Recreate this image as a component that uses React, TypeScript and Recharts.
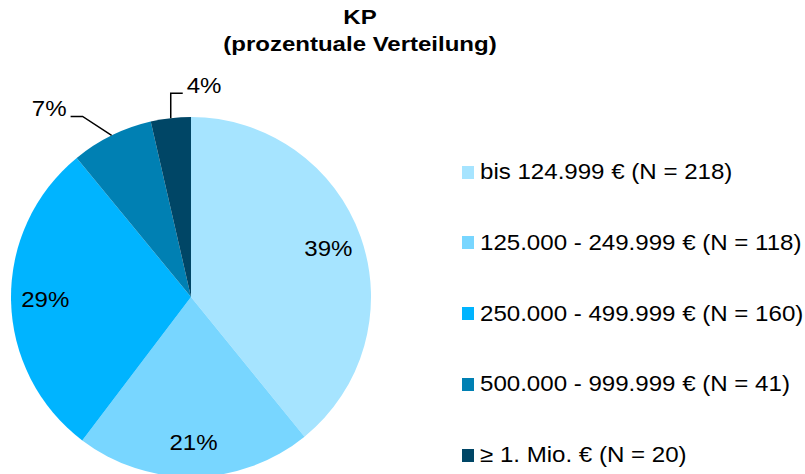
import { Cell, Legend, Pie, PieChart } from 'recharts';

const categories = [
  'bis 124.999 € (N = 218)',
  '125.000 - 249.999 € (N = 118)',
  '250.000 - 499.999 € (N = 160)',
  '500.000 - 999.999 € (N = 41)',
  '≥ 1. Mio. € (N = 20)',
];
const counts = [218, 118, 160, 41, 20];
const colors = ['#A6E4FF', '#78D6FF', '#00B4FF', '#0080B3', '#004666'];

const data = categories.map((name, i) => ({ name, value: counts[i] }));

const FONT = '"Liberation Sans", Arial, sans-serif';
const STRETCH = 1.12;
const RAD = Math.PI / 180;

// leader line elbow offsets (from slice edge) for the small slices
const elbows: Record<number, { dx: number; dy: number; run: number }> = {
  3: { dx: -29, dy: -19, run: -12 },
  4: { dx: 0, dy: -25, run: 12 },
};

function renderLabel(props: any) {
  const { cx, cy, midAngle, outerRadius, percent, index } = props;
  const text = `${Math.round(percent * 100)}%`;
  const cos = Math.cos(-midAngle * RAD);
  const sin = Math.sin(-midAngle * RAD);
  const elbow = elbows[index];
  if (!elbow) {
    const r = outerRadius * 0.81;
    const x = cx + r * cos;
    const y = cy + r * sin;
    return (
      <text
        transform={`translate(${x} ${y}) scale(${STRETCH} 1)`}
        textAnchor="middle"
        dominantBaseline="central"
        fontFamily={FONT}
        fontSize={21.5}
        fill="#000"
      >
        {text}
      </text>
    );
  }
  const ex = cx + outerRadius * cos;
  const ey = cy + outerRadius * sin;
  const kx = ex + elbow.dx;
  const ky = ey + elbow.dy;
  const hx = kx + elbow.run;
  const anchor = elbow.run < 0 ? 'end' : 'start';
  const tx = hx + (elbow.run < 0 ? -4 : 4);
  return (
    <g>
      <polyline points={`${ex},${ey} ${kx},${ky} ${hx},${ky}`} fill="none" stroke="#000" strokeWidth={1.5} />
      <text
        transform={`translate(${tx} ${ky}) scale(${STRETCH} 1)`}
        textAnchor={anchor}
        fontFamily={FONT}
        fontSize={21.5}
        fill="#000"
      >
        {text}
      </text>
    </g>
  );
}

function LegendList() {
  return (
    <div style={{ fontFamily: FONT }}>
      {categories.map((label, i) => (
        <div key={label} style={{ display: 'flex', alignItems: 'center', height: 14, marginBottom: i < 4 ? 56.8 : 0 }}>
          <div style={{ width: 12, height: 13, background: colors[i], flex: 'none' }} />
          <div
            style={{
              marginLeft: 6,
              fontSize: 21.5,
              color: '#000',
              whiteSpace: 'nowrap',
              transform: `scaleX(${STRETCH})`,
              transformOrigin: 'left center',
              lineHeight: '14px',
            }}
          >
            {label}
          </div>
        </div>
      ))}
    </div>
  );
}

export default function App() {
  return (
    <div style={{ position: 'absolute', left: 0, top: 0, width: 805, height: 474, background: '#fff', overflow: 'hidden' }}>
      <div
        style={{
          position: 'absolute',
          left: 0,
          top: 4,
          width: 720,
          textAlign: 'center',
          fontFamily: FONT,
          fontWeight: 'bold',
          fontSize: 20,
          lineHeight: '27px',
          color: '#000',
          zIndex: 2,
        }}
      >
        <div style={{ transform: 'scaleX(1.2)' }}>KP</div>
        <div style={{ transform: 'scaleX(1.2)' }}>(prozentuale Verteilung)</div>
      </div>
      <PieChart width={805} height={474} margin={{ top: 0, right: 0, bottom: 0, left: 0 }}>
        <Pie
          data={data}
          dataKey="value"
          nameKey="name"
          cx={191}
          cy={297}
          outerRadius={180}
          startAngle={90}
          endAngle={-270}
          stroke="none"
          label={renderLabel}
          labelLine={false}
          isAnimationActive={false}
        >
          {data.map((d, i) => (
            <Cell key={d.name} fill={colors[i]} />
          ))}
        </Pie>
        <Legend
          layout="vertical"
          align="right"
          verticalAlign="top"
          content={<LegendList />}
          wrapperStyle={{ position: 'absolute', left: 462, top: 165, width: 340 }}
        />
      </PieChart>
    </div>
  );
}
